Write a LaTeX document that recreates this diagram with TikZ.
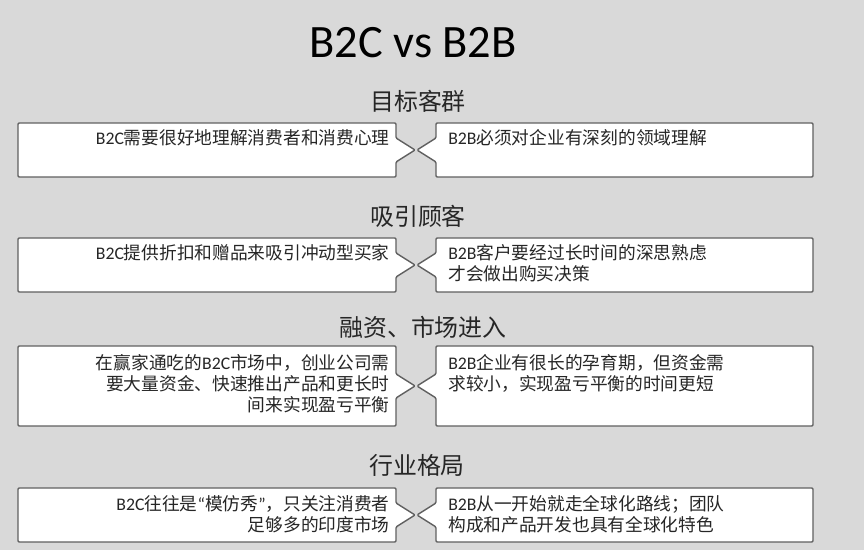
\documentclass[tikz,border=0pt]{standalone}
\usepackage{fontspec}
\setmainfont{Noto Sans CJK SC}
\newfontfamily\lat{Carlito}
\usepackage{xcolor}
\usepackage{tikz}
\usetikzlibrary{positioning}
\definecolor{bggray}{HTML}{D9D9D9}
\definecolor{edgegray}{HTML}{606060}

\begin{document}
\begin{tikzpicture}[
    x=0.025cm, y=-0.025cm,
    card/.style={
        draw=edgegray,
        fill=white,
        line width=1pt,
        rounded corners=0.8pt
    },
    heading/.style={
        font=\fontsize{17}{20}\selectfont,
        text=black!85,
        inner sep=0pt
    },
    btext/.style={
        font=\fontsize{12.6}{14.9}\selectfont,
        text=black!85,
        inner sep=0pt
    },
    lefttext/.style={btext, anchor=north east, align=right},
    righttext/.style={btext, anchor=north west, align=left}
]

\fill[bggray] (0,0) rectangle (864,550);

\node[font=\lat\fontsize{33}{36}\selectfont] (title) at (413,43) {B2C vs B2B};

% 目标客群
\node[heading] (h-target) at (418,101) {目标客群};
\draw[card] (18,123) -- (396,123) -- (396,138) -- (415,150) -- (396,162) -- (396,177) -- (18,177) -- cycle;
\draw[card] (436,123) -- (813,123) -- (813,177) -- (436,177) -- (436,162) -- (417,150) -- (436,138) -- cycle;
\node[lefttext]  (target-b2c) at (390,129) {{\lat B2C}需要很好地理解消费者和消费心理};
\node[righttext] (target-b2b) at (448,129) {{\lat B2B}必须对企业有深刻的领域理解};

% 吸引顾客
\node[heading] (h-attract) at (418,216) {吸引顾客};
\draw[card] (18,238) -- (396,238) -- (396,253) -- (415,265) -- (396,277) -- (396,292) -- (18,292) -- cycle;
\draw[card] (436,238) -- (813,238) -- (813,292) -- (436,292) -- (436,277) -- (417,265) -- (436,253) -- cycle;
\node[lefttext]  (attract-b2c) at (390,244) {{\lat B2C}提供折扣和赠品来吸引冲动型买家};
\node[righttext] (attract-b2b) at (448,244) {{\lat B2B}客户要经过长时间的深思熟虑\\才会做出购买决策};

% 融资、市场进入
\node[heading] (h-funding) at (423,327) {融资、市场进入};
\draw[card] (18,346) -- (396,346) -- (396,374) -- (415,386) -- (396,398) -- (396,426) -- (18,426) -- cycle;
\draw[card] (436,346) -- (813,346) -- (813,426) -- (436,426) -- (436,398) -- (417,386) -- (436,374) -- cycle;
\node[lefttext]  (funding-b2c) at (390,354) {在赢家通吃的{\lat B2C}市场中，创业公司需\\要大量资金、快速推出产品和更长时\\间来实现盈亏平衡};
\node[righttext] (funding-b2b) at (448,354) {{\lat B2B}企业有很长的孕育期，但资金需\\求较小，实现盈亏平衡的时间更短};

% 行业格局
\node[heading] (h-industry) at (417,465) {行业格局};
\draw[card] (18,488) -- (396,488) -- (396,503) -- (415,515) -- (396,527) -- (396,542) -- (18,542) -- cycle;
\draw[card] (436,488) -- (813,488) -- (813,542) -- (436,542) -- (436,527) -- (417,515) -- (436,503) -- cycle;
\node[lefttext]  (industry-b2c) at (390,495) {{\lat B2C}往往是{\lat “}模仿秀{\lat ”}，只关注消费者\\足够多的印度市场};
\node[righttext] (industry-b2b) at (448,495) {{\lat B2B}从一开始就走全球化路线；团队\\构成和产品开发也具有全球化特色};

\end{tikzpicture}
\end{document}
